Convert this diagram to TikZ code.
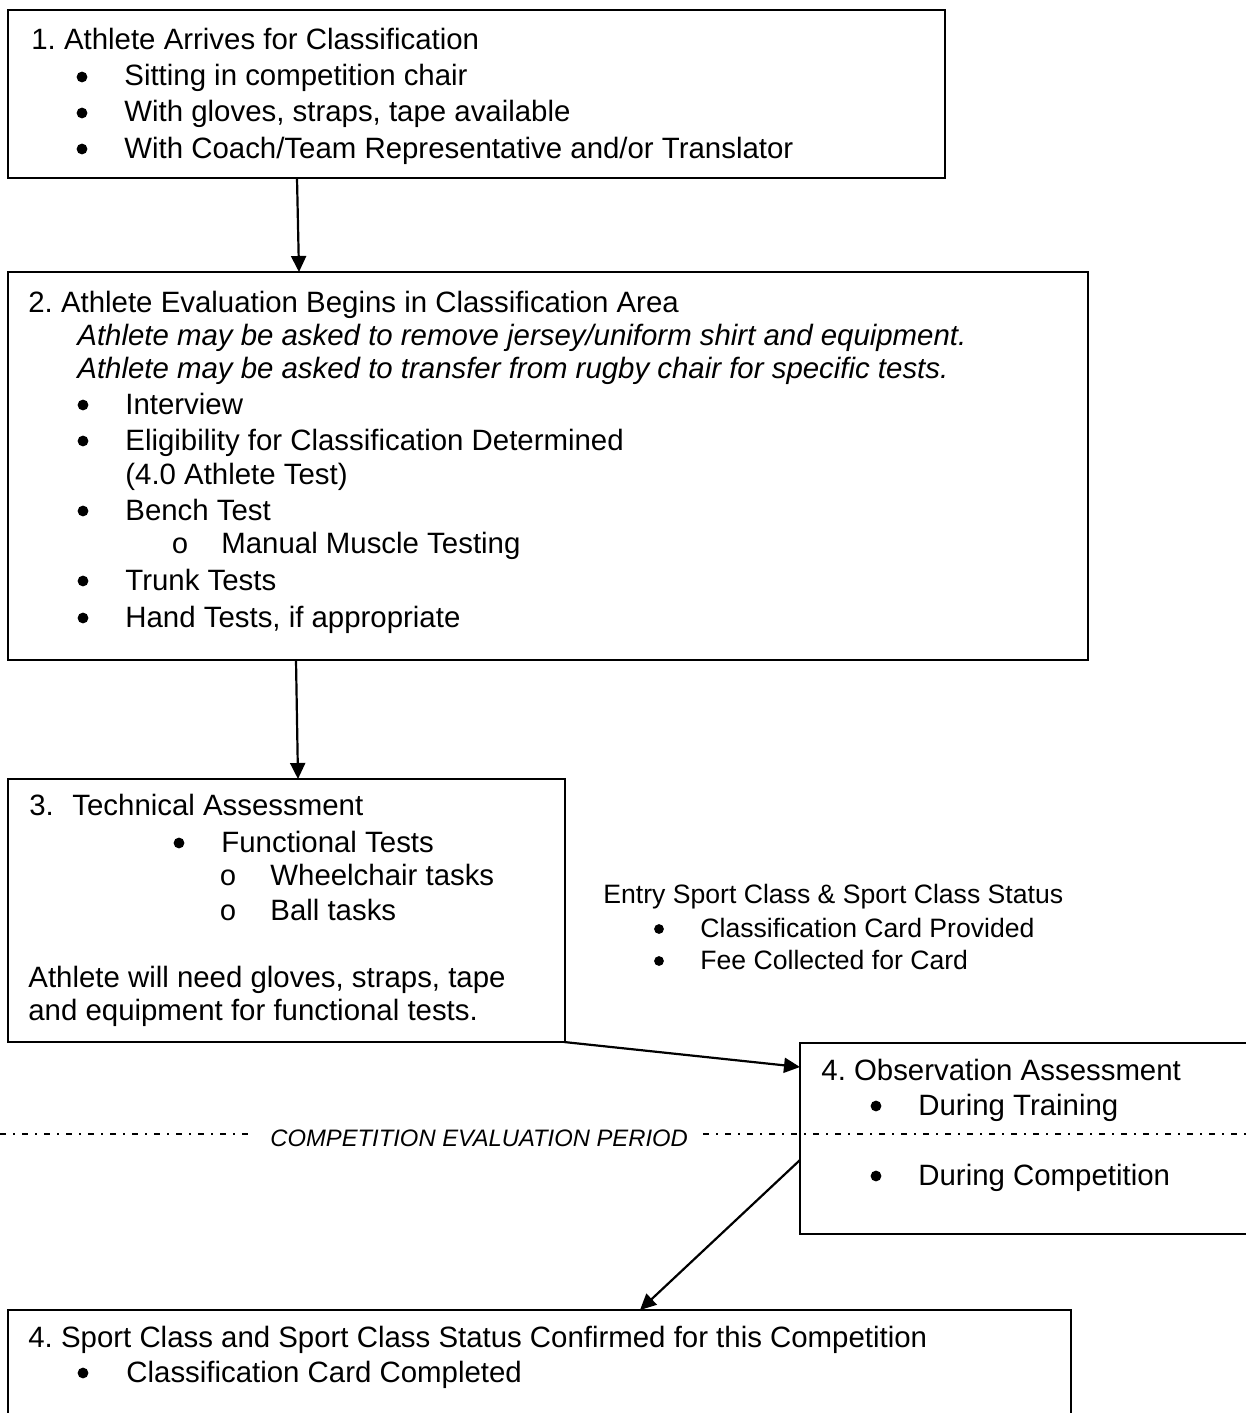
\documentclass[tikz,border=0pt]{standalone}
\usepackage{fontspec}
\setmainfont{Liberation Sans}
\setmonofont{Liberation Mono}
\frenchspacing
\usetikzlibrary{arrows.meta,calc}
\tikzset{
  box/.style={draw, line width=0.9pt, anchor=north west, inner sep=0pt, outer sep=0pt},
  txt/.style={anchor=base west, inner sep=0pt, font=\fontsize{14.7}{18}\selectfont},
  itx/.style={anchor=base west, inner sep=0pt, font=\fontsize{14.7}{18}\selectfont\itshape},
  bul/.style={circle, fill=black, draw=none, inner sep=0pt, minimum size=5.4pt},
  subb/.style={anchor=base, inner sep=0pt, font=\fontsize{14.5}{18}\selectfont\ttfamily},
  stxt/.style={anchor=base west, inner sep=0pt, font=\fontsize{13.3}{16}\selectfont},
  sbul/.style={circle, fill=black, draw=none, inner sep=0pt, minimum size=4.9pt},
  arr/.style={-{Triangle[length=8pt,width=7.5pt]}, line width=1.1pt},
  sepline/.style={line width=0.8pt, dash pattern=on 3pt off 3.5pt on 1pt off 3.5pt},
}
\begin{document}
\begin{tikzpicture}[x=0.5pt, y=-0.5pt]
\useasboundingbox (0,0) rectangle (1246,1413);
\clip (0,0) rectangle (1246,1413);

% Boxes
\node[box, minimum width=468.5pt, minimum height=84pt] (b1) at (8,10) {};
\node[box, minimum width=540pt, minimum height=194pt] (b2) at (8,272) {};
\node[box, minimum width=278.5pt, minimum height=131.5pt] (b3) at (8,779) {};
\node[box, minimum width=230pt, minimum height=95.5pt] (b4) at (800,1043) {};
\node[box, minimum width=531.5pt, minimum height=75pt] (b5) at (8,1310) {};

% Box 1 text
\node[txt] (t1) at (31,50) {1. Athlete Arrives for Classification};
\node[bul] (t1ba) at (82,77) {};
\node[txt] (t1a) at (124,86) {Sitting in competition chair};
\node[bul] (t1bb) at (82,113) {};
\node[txt] (t1b) at (124,122) {With gloves, straps, tape available};
\node[bul] (t1bc) at (82,149) {};
\node[txt] (t1c) at (124,158) {With Coach/Team Representative and/or Translator};

% Box 2 text
\node[txt] (t2) at (28,312) {2. Athlete Evaluation Begins in Classification Area};
\node[itx] (t2i1) at (77,345) {Athlete may be asked to remove jersey/uniform shirt and equipment.};
\node[itx] (t2i2) at (77,378) {Athlete may be asked to transfer from rugby chair for specific tests.};
\node[bul] (t2ba) at (83,405) {};
\node[txt] (t2a) at (125,414) {Interview};
\node[bul] (t2bb) at (83,441) {};
\node[txt] (t2b) at (125,450) {Eligibility for Classification Determined};
\node[txt] (t2b2) at (125,484) {(4.0 Athlete Test)};
\node[bul] (t2bc) at (83,511) {};
\node[txt] (t2c) at (125,520) {Bench Test};
\node[subb] (t2sc) at (180,553) {o};
\node[txt] (t2c1) at (221,553) {Manual Muscle Testing};
\node[bul] (t2bd) at (83,581) {};
\node[txt] (t2d) at (125,590) {Trunk Tests};
\node[bul] (t2be) at (83,618) {};
\node[txt] (t2e) at (125,627) {Hand Tests, if appropriate};

% Box 3 text
\node[txt] (t3n) at (29,815) {3.};
\node[txt] (t3) at (72,815) {Technical Assessment};
\node[bul] (t3ba) at (179,843) {};
\node[txt] (t3a) at (221,852) {Functional Tests};
\node[subb] (t3sa) at (228,885) {o};
\node[txt] (t3a1) at (270,885) {Wheelchair tasks};
\node[subb] (t3sb) at (228,920) {o};
\node[txt] (t3a2) at (270,920) {Ball tasks};
\node[txt] (t3c) at (28,987) {Athlete will need gloves, straps, tape};
\node[txt] (t3d) at (28,1020) {and equipment for functional tests.};

% Entry text
\node[stxt] (te) at (603,903) {Entry Sport Class \& Sport Class Status};
\node[sbul] (teba) at (659,929) {};
\node[stxt] (tea) at (700,937) {Classification Card Provided};
\node[sbul] (tebb) at (659,961) {};
\node[stxt] (teb) at (700,969) {Fee Collected for Card};

% Box 4 (observation) text
\node[txt] (t4) at (821,1080) {4. Observation Assessment};
\node[bul] (t4ba) at (876,1106) {};
\node[txt] (t4a) at (918,1115) {During Training};
\node[bul] (t4bb) at (876,1176) {};
\node[txt] (t4b) at (918,1185) {During Competition};

% Separator
\node[anchor=base west, inner sep=0pt, font=\fontsize{11.9}{14}\selectfont\itshape] (cep) at (270,1146) {COMPETITION EVALUATION PERIOD};
\coordinate (dA) at (0,1134);
\coordinate (dB) at (248,1134);
\coordinate (dC) at (703,1134);
\coordinate (dD) at (1246,1134);
\draw[sepline] (dA) -- (dB);
\draw[sepline] (dC) -- (dD);

% Box 5 text
\node[txt] (t5) at (28,1347) {4. Sport Class and Sport Class Status Confirmed for this Competition};
\node[bul] (t5ba) at (83,1373) {};
\node[txt] (t5a) at (126,1382) {Classification Card Completed};

% Connectors
\draw[arr] ($(b1.south west)+(289,0)$) -- ($(b2.north west)+(291,0)$);
\draw[arr] ($(b2.south west)+(288,0)$) -- ($(b3.north west)+(290,0)$);
\draw[arr] ($(b3.south east)+(-1,0)$) -- ($(b4.north west)+(0,24)$);
\draw[arr] ($(b4.north west)+(0,117)$) -- ($(b5.north west)+(632,0)$);
\end{tikzpicture}
\end{document}
